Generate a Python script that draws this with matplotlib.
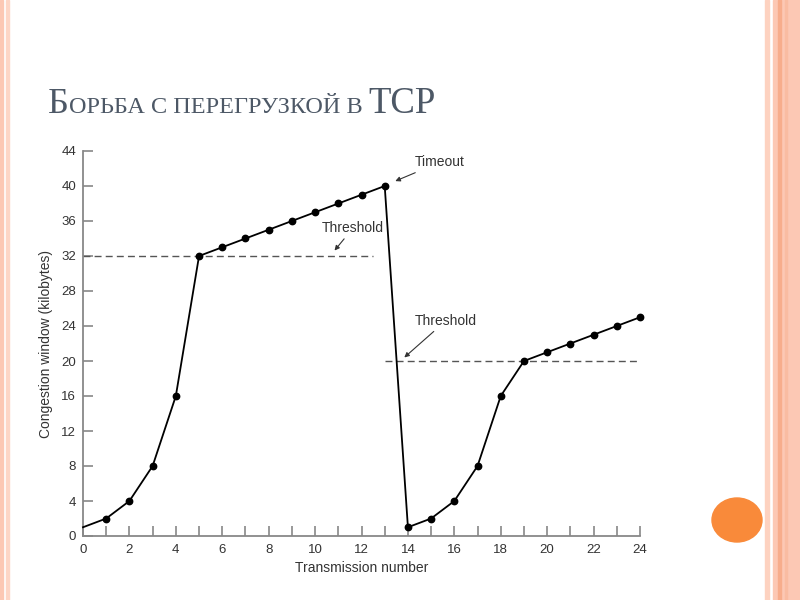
import numpy as np
from matplotlib import pyplot as plt
from matplotlib.patches import Ellipse, Rectangle

# transmission number and congestion window (KB)
transmission = list(range(0, 25))
cwnd = [1, 2, 4, 8, 16, 32, 33, 34, 35, 36, 37, 38, 39, 40,
        1, 2, 4, 8, 16, 20, 21, 22, 23, 24, 25]

threshold_1 = 32
threshold_1_span = [0, 12.5]
threshold_2 = 20
threshold_2_span = [13, 24]

x_ticks = list(range(0, 25, 2))
y_ticks = list(range(0, 45, 4))

title_big_1 = "Б"
title_small = "ОРЬБА С ПЕРЕГРУЗКОЙ В "
title_big_2 = "TCP"

fig = plt.figure(figsize=(8, 6), dpi=100)
fig.patch.set_facecolor('white')

# slide decoration: stripes on the edges and orange dot
peach = '#fcc8b4'
fig.patches.append(Rectangle((0.0, 0), 0.004, 1, transform=fig.transFigure, color=peach, zorder=0))
fig.patches.append(Rectangle((0.007, 0), 0.004, 1, transform=fig.transFigure, color='#fdd6c6', zorder=0))
fig.patches.append(Rectangle((0.956, 0), 0.005, 1, transform=fig.transFigure, color='#fdd2c0', zorder=0))
fig.patches.append(Rectangle((0.966, 0), 0.034, 1, transform=fig.transFigure, color=peach, zorder=0))
fig.patches.append(Rectangle((0.972, 0), 0.004, 1, transform=fig.transFigure, color='#f7ad8c', zorder=0))
fig.patches.append(Rectangle((0.981, 0), 0.003, 1, transform=fig.transFigure, color='#f9bca2', zorder=0))
fig.patches.append(Ellipse((737 / 800, 1 - 520 / 600), 50 / 800, 44 / 600,
                           transform=fig.transFigure, color='#f98a3a', zorder=1))

# title in small caps
title_color = '#4d5866'
base_y = 1 - 113 / 600
t1 = fig.text(48 / 800, base_y, title_big_1, fontsize=26, family='Liberation Serif',
              color=title_color, va='baseline')
fig.canvas.draw()
r = fig.canvas.get_renderer()
bb = t1.get_window_extent(r)
t2 = fig.text(bb.x1 / 800, base_y, title_small, fontsize=17.5, family='Liberation Serif',
              color=title_color, va='baseline')
bb = t2.get_window_extent(r)
fig.text(bb.x1 / 800, base_y, title_big_2, fontsize=26.5, family='Liberation Serif',
         color=title_color, va='baseline')

ax = fig.add_axes([83 / 800, 64 / 600, 557 / 800, 385 / 600])
ax.set_facecolor('none')

ax.plot(transmission, cwnd, color='black', lw=1.3, zorder=3, clip_on=False)
ax.plot(transmission[1:], cwnd[1:], 'o', color='black', ms=4.6, zorder=4, clip_on=False)

ax.plot(threshold_1_span, [threshold_1] * 2, ls=(0, (5, 3)), color='#555555', lw=1)
ax.plot(threshold_2_span, [threshold_2] * 2, ls=(0, (5, 3)), color='#555555', lw=1)

ax.set_xlim(0, 24)
ax.set_ylim(0, 44)
ax.spines['top'].set_visible(False)
ax.spines['right'].set_visible(False)
for s in ['left', 'bottom']:
    ax.spines[s].set_color('#888888')
    ax.spines[s].set_linewidth(1.3)

ax.set_xticks(range(0, 25))
ax.set_xticklabels([str(v) if v in x_ticks else '' for v in range(0, 25)])
ax.set_yticks(y_ticks)
ax.tick_params(axis='x', direction='in', length=7.5, width=1.2, color='#888888',
               labelsize=9.5, labelcolor='#333333', pad=6)
ax.tick_params(axis='y', direction='in', length=7.5, width=1.2, color='#888888',
               labelsize=9.5, labelcolor='#333333', pad=5)

font = 'Liberation Sans'
for lab in ax.get_xticklabels() + ax.get_yticklabels():
    lab.set_family(font)

ax.set_xlabel('Transmission number', fontsize=10, family=font, color='#333333', labelpad=3)
ax.set_ylabel('Congestion window (kilobytes)', fontsize=10, family=font, color='#333333', labelpad=6)

arrow = dict(arrowstyle='-|>', color='#333333', lw=0.8, mutation_scale=7, shrinkA=1, shrinkB=1)
ax.annotate('Timeout', xy=(13.4, 40.5), xytext=(14.3, 42.7), fontsize=10, family=font,
            color='#333333', va='center', arrowprops=arrow)
ax.annotate('Threshold', xy=(10.8, 32.5), xytext=(10.3, 35.2), fontsize=10, family=font,
            color='#333333', va='center', arrowprops=arrow)
ax.annotate('Threshold', xy=(13.8, 20.3), xytext=(14.3, 24.6), fontsize=10, family=font,
            color='#333333', va='center', arrowprops=arrow)

fig.savefig('out.png', dpi=100)
